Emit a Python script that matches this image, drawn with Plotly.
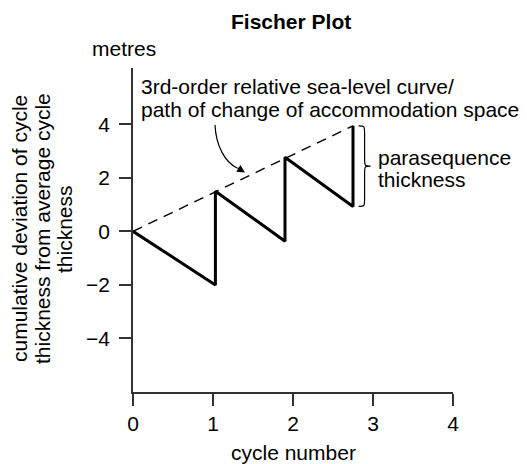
import plotly.graph_objects as go

# Fischer plot: cumulative deviation of cycle thickness versus cycle number
cycle_x = [0, 1.03, 1.03, 1.9, 1.9, 2.75, 2.75]
deviation_m = [0, -2.0, 1.5, -0.37, 2.77, 0.93, 3.94]

# 3rd-order relative sea-level curve (joins the cycle tops)
sea_x = [0, 2.75]
sea_y = [0, 3.94]

x_ticks = [0, 1, 2, 3, 4]
y_ticks = [-4, -2, 0, 2, 4]

FONT = "Liberation Sans, Arial, Helvetica, sans-serif"
FS = 21
AXIS_COL = "#333333"

W, H = 527, 464
L, R, T, B = 133, 74, 68, 72
X_RANGE = [0, 4]
Y_RANGE = [-6, 6.1]

fig = go.Figure()

fig.add_trace(go.Scatter(
    x=sea_x, y=sea_y, mode="lines",
    line=dict(color="black", width=1.4, dash="10px,7px"),
    hoverinfo="skip", showlegend=False,
))
fig.add_trace(go.Scatter(
    x=cycle_x, y=deviation_m, mode="lines",
    line=dict(color="black", width=3),
    hoverinfo="skip", showlegend=False,
))


def px_to_x(px):
    return X_RANGE[0] + (px - L) / (W - L - R) * (X_RANGE[1] - X_RANGE[0])


def py_to_y(py):
    return Y_RANGE[1] - (py - T) / (H - T - B) * (Y_RANGE[1] - Y_RANGE[0])


# curly brace beside the last cycle, spanning its parasequence thickness
top, bot = deviation_m[-1], deviation_m[-2]
bx0 = cycle_x[-1] + 0.07
bx1 = cycle_x[-1] + 0.22
mid = (top + bot) / 2
bxm = (bx0 + bx1) / 2
brace = (
    f"M {bx0} {top} "
    f"C {bxm} {top} {bxm} {top} {bxm} {top - 0.3} "
    f"L {bxm} {mid + 0.3} "
    f"C {bxm} {mid} {bxm} {mid} {bx1} {mid} "
    f"C {bxm} {mid} {bxm} {mid} {bxm} {mid - 0.3} "
    f"L {bxm} {bot + 0.3} "
    f"C {bxm} {bot} {bxm} {bot} {bx0} {bot}"
)
fig.add_shape(type="path", path=brace, xref="x", yref="y",
              line=dict(color="black", width=1.2))

# curved pointer from the label down to the sea-level curve
tip_x, tip_y = px_to_x(245), py_to_y(172.5)
p0x, p0y = px_to_x(215), py_to_y(125)
c1x, c1y = px_to_x(216), py_to_y(146)
c2x, c2y = px_to_x(225), py_to_y(162)
p1x, p1y = px_to_x(237), py_to_y(168)
fig.add_shape(type="path", xref="x", yref="y",
              path=f"M {p0x} {p0y} C {c1x} {c1y} {c2x} {c2y} {p1x} {p1y}",
              line=dict(color="black", width=1.2))
fig.add_annotation(x=tip_x, y=tip_y, ax=-9, ay=-5.5, xref="x", yref="y",
                   axref="pixel", ayref="pixel", text="", showarrow=True,
                   arrowhead=2, arrowsize=1.2, arrowwidth=1.3,
                   arrowcolor="black", standoff=0)

txt = dict(family=FONT, size=FS, color="black")


def label(text, px, py, xanchor="left", angle=0, bold=False):
    t = f"<b>{text}</b>" if bold else text
    fig.add_annotation(
        x=(px - L) / (W - L - R), y=1 - (py - T) / (H - T - B),
        xref="paper", yref="paper", text=t, showarrow=False,
        xanchor=xanchor, yanchor="middle", textangle=angle, font=txt,
    )


label("Fischer Plot", 291, 21, xanchor="center", bold=True)
label("metres", 90, 49)
label("3rd-order relative sea-level curve/", 139, 86)
label("path of change of accommodation space", 139, 109)
label("parasequence", 376, 157)
label("thickness", 376, 179)
label("cycle number", 293, 452, xanchor="center")
label("cumulative deviation of cycle", 19, 229, xanchor="center", angle=-90)
label("thickness from average cycle", 42, 229, xanchor="center", angle=-90)
label("thickness", 64, 229, xanchor="center", angle=-90)

fig.update_xaxes(
    range=X_RANGE, tickvals=x_ticks, showgrid=False, zeroline=False,
    showline=True, linecolor=AXIS_COL, linewidth=1.5,
    ticks="outside", ticklen=12, tickwidth=1.5, tickcolor=AXIS_COL,
    tickfont=txt, fixedrange=True,
)
fig.update_yaxes(
    range=Y_RANGE, tickvals=y_ticks, showgrid=False, zeroline=False,
    showline=True, linecolor=AXIS_COL, linewidth=1.5,
    ticks="outside", ticklen=12, tickwidth=1.5, tickcolor=AXIS_COL,
    tickfont=txt, fixedrange=True, ticklabelstandoff=5,
)

fig.update_layout(
    width=W, height=H,
    margin=dict(l=L, r=R, t=T, b=B),
    plot_bgcolor="white", paper_bgcolor="white",
    font=txt, showlegend=False,
)

fig.write_html("out.html", config={"displayModeBar": False})
